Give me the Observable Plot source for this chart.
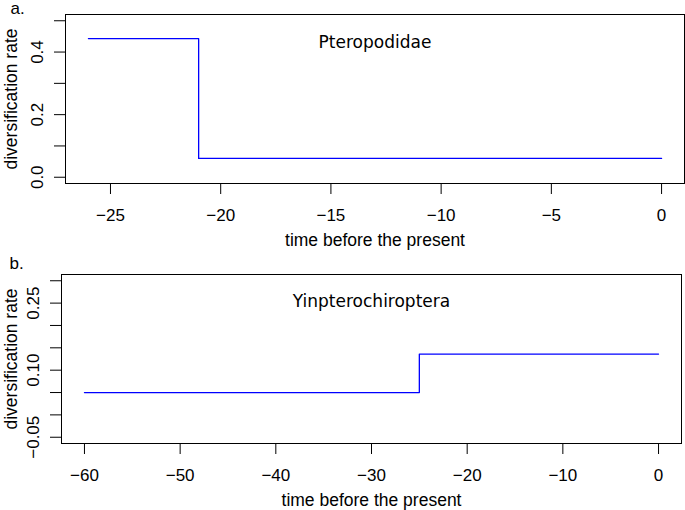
<!DOCTYPE html>
<html>
<head>
<meta charset="utf-8">
<script src="https://cdn.jsdelivr.net/npm/d3@7"></script>
<script src="https://cdn.jsdelivr.net/npm/@observablehq/plot@0.6"></script>
<style>
  body { margin: 0; background: #fff; }
  #chart { width: 685px; height: 510px; }
  #chart svg { display: block; }
</style>
</head>
<body>
<div id="chart"></div>
<script>
// Panel a: Pteropodidae
const timeA = [-26, -21, 0];
const rateA = [0.443, 0.060, 0.060];
const xTicksA = [-25, -20, -15, -10, -5, 0];
const yTicksA = [0, 0.1, 0.2, 0.3, 0.4, 0.5];
const yLabelsA = [0, 0.2, 0.4];

// Panel b: Yinpterochiroptera
const timeB = [-60, -25, 0];
const rateB = [0.050, 0.136, 0.136];
const xTicksB = [-60, -50, -40, -30, -20, -10, 0];
const yTicksB = [-0.05, 0, 0.05, 0.10, 0.15, 0.20, 0.25, 0.30];
const yLabelsB = [-0.05, 0.10, 0.25];

const titles = ["Pteropodidae", "Yinpterochiroptera"];
const panelLetters = ["a.", "b."];
const xTitle = "time before the present";
const yTitle = "diversification rate";

const FONT = "'Liberation Sans', Arial, Helvetica, sans-serif";

function panel({time, rate, xTicks, yTicks, yLabels, yFmt, xDomain, yDomain, height, mt, mb, ml, mr, title, titleDy, letter, letterDx, letterDy}) {
  const data = time.map((t, i) => ({t, r: rate[i]}));
  return Plot.plot({
    width: 685,
    height,
    marginTop: mt,
    marginBottom: mb,
    marginLeft: ml,
    marginRight: mr,
    style: {fontFamily: FONT, fontSize: "17px", color: "#000", background: "#fff", overflow: "visible"},
    x: {domain: xDomain, label: null},
    y: {domain: yDomain, label: null},
    marks: [
      Plot.frame({stroke: "#000", strokeWidth: 1}),
      Plot.axisX({ticks: xTicks, tickSize: 11, tickPadding: 14, tickFormat: d3.format("d"), fontSize: 17, stroke: "#000", label: null}),
      Plot.axisY({ticks: yTicks, tickSize: 11, tickFormat: () => "", stroke: "#000", label: null}),
      Plot.axisY({ticks: yLabels, tickSize: 0, tickPadding: 23, tickRotate: -90, tickFormat: d3.format(yFmt), fontSize: 17, label: null}),
      Plot.text([xTitle], {frameAnchor: "bottom", dy: 57, lineAnchor: "middle", fontSize: 17.5, fill: "#000"}),
      Plot.text([yTitle], {frameAnchor: "left", dx: 16 - ml, rotate: -90, lineAnchor: "bottom", textAnchor: "middle", fontSize: 17.5, fill: "#000"}),
      Plot.text([title], {frameAnchor: "top", dy: titleDy, lineAnchor: "middle", fontFamily: "'DejaVu Sans', sans-serif", fontSize: 17, fill: "#000"}),
      Plot.text([letter], {frameAnchor: "top-left", dx: letterDx, dy: letterDy, lineAnchor: "bottom", textAnchor: "start", fontSize: 17, fill: "#000"}),
      Plot.line(data, {x: "t", y: "r", curve: "step-after", stroke: "#0000ff", strokeWidth: 1.3})
    ]
  });
}

const root = document.getElementById("chart");
root.appendChild(panel({
  time: timeA, rate: rateA, xTicks: xTicksA, yTicks: yTicksA, yLabels: yLabelsA, yFmt: ".1f",
  xDomain: [-27.04, 1.04], yDomain: [-0.02, 0.52],
  height: 260, mt: 14, mb: 77, ml: 65, mr: 1,
  title: titles[0], titleDy: 28, letter: panelLetters[0], letterDx: -55, letterDy: -1
}));
root.appendChild(panel({
  time: timeB, rate: rateB, xTicks: xTicksB, yTicks: yTicksB, yLabels: yLabelsB, yFmt: ".2f",
  xDomain: [-62.4, 2.4], yDomain: [-0.064, 0.314],
  height: 250, mt: 14, mb: 67, ml: 61, mr: 4,
  title: titles[1], titleDy: 27, letter: panelLetters[1], letterDx: -52, letterDy: -6
}));
</script>
</body>
</html>
